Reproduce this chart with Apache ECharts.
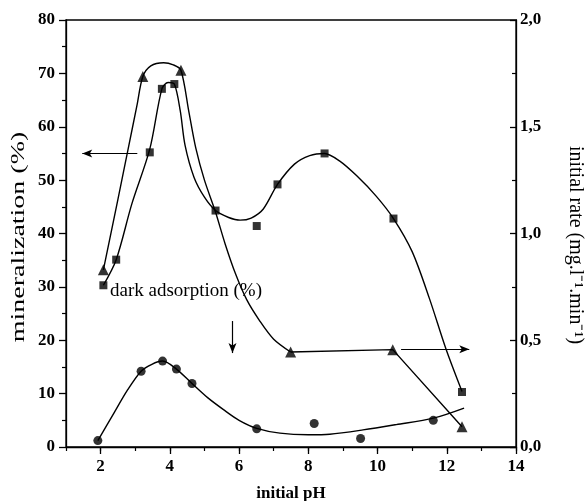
<!DOCTYPE html>
<html><head><meta charset="utf-8">
<script src="https://cdn.jsdelivr.net/npm/echarts@6/dist/echarts.min.js"></script>
<style>html,body{margin:0;padding:0;background:#fff}#c{width:588px;height:501px}</style>
</head><body><div id="c"></div>
<script>
// ---- data ----
const xTicks = [2, 4, 6, 8, 10, 12, 14];
const leftTicks = [0, 10, 20, 30, 40, 50, 60, 70, 80];
const rightTicks = ['0,0', '0,5', '1,0', '1,5', '2,0'];

// mineralization (%) - squares, left axis
const mineralPH  = [2.08, 2.45, 3.42, 3.77, 4.13, 5.32, 6.51, 7.11, 8.47, 10.46, 12.44];
const mineralVal = [30.3, 35.1, 55.2, 67.1, 68.0, 44.3, 41.4, 49.2, 55.0, 42.8, 10.3];
// fitted curve through mineralization
const mineralFitPH  = [2.08, 2.45, 2.9, 3.42, 3.77, 3.95, 4.13, 4.3, 4.44, 4.7, 5.0, 5.32, 5.7, 6.03, 6.35, 6.7, 7.11, 7.6, 8.04, 8.47, 8.9, 9.4, 9.96, 10.46, 11.0, 11.5, 11.98, 12.44];
const mineralFitVal = [30.3, 35.1, 45.5, 55.8, 67.1, 68.3, 68.0, 63.0, 56.5, 50.5, 46.8, 44.3, 43.0, 42.5, 42.9, 44.6, 49.2, 53.0, 54.6, 55.0, 53.6, 50.8, 47.0, 42.8, 36.6, 27.8, 18.3, 10.4];

// initial rate (mg/l/min) - triangles, right axis
const ratePH  = [2.08, 3.22, 4.32, 7.49, 10.44, 12.44];
const rateVal = [0.83, 1.735, 1.765, 0.445, 0.456, 0.095];
// fitted curve through initial rate (smooth part, then straight segments)
const rateFitPH  = [2.08, 2.5, 2.8, 3.05, 3.22, 3.45, 3.82, 4.1, 4.32, 4.55, 4.75, 5.0, 5.31, 5.6, 5.9, 6.22, 6.6, 7.0, 7.49];
const rateFitVal = [0.83, 1.16, 1.40, 1.60, 1.735, 1.785, 1.80, 1.79, 1.765, 1.57, 1.40, 1.25, 1.105, 0.95, 0.81, 0.69, 0.59, 0.505, 0.445];
const rateLinePH  = [7.49, 10.44, 12.44];
const rateLineVal = [0.445, 0.456, 0.095];

// dark adsorption (%) - circles, left axis
const adsPH  = [1.92, 3.17, 3.79, 4.19, 4.64, 6.51, 8.17, 9.51, 11.61];
const adsVal = [1.2, 14.2, 16.1, 14.6, 11.9, 3.4, 4.4, 1.6, 5.0];
const adsFitPH  = [1.92, 2.38, 2.77, 3.17, 3.48, 3.79, 4.19, 4.64, 5.1, 5.55, 6.0, 6.51, 7.18, 8.0, 8.62, 9.58, 10.54, 11.61, 12.5];
const adsFitVal = [1.2, 6.3, 10.6, 14.2, 15.5, 16.1, 14.6, 11.9, 9.2, 7.0, 5.0, 3.5, 2.6, 2.3, 2.4, 3.2, 4.2, 5.4, 7.3];

// annotation arrows (data coordinates, left axis)
const arrowLeft  = [[3.06, 55.0], [1.47, 55.0]];
const arrowRight = [[10.68, 18.3], [12.65, 18.3]];
const arrowDown  = [[5.81, 23.6], [5.81, 17.6]];

// ---- chart ----
const zip = (a, b) => a.map((v, i) => [v, b[i]]);
const FONT = "'Liberation Serif','Times New Roman',serif";
const BLK = '#000';
const chart = echarts.init(document.getElementById('c'), null, {renderer: 'canvas'});

const curve = (x, y, yi, smooth) => ({
  type: 'line', data: zip(x, y), yAxisIndex: yi, xAxisIndex: 0,
  symbol: 'none', smooth: smooth, lineStyle: {color: BLK, width: 1.4}, silent: true, z: 3
});
const pts = (x, y, yi, sym, size) => ({
  type: 'scatter', data: zip(x, y), yAxisIndex: yi, xAxisIndex: 0,
  symbol: sym, symbolSize: size, itemStyle: {color: BLK}, silent: true, z: 5
});
const arrow = (a) => [{coord: a[0]}, {coord: a[1]}];

chart.setOption({
  animation: false,
  backgroundColor: '#fff',
  grid: {left: 66, right: 72, top: 20, bottom: 54, outerBoundsMode: 'none', containLabel: false,
    show: true, borderColor: BLK, borderWidth: 1.3, backgroundColor: 'transparent'},
  xAxis: [{
    type: 'value', min: 1, max: 14,
    axisLine: {show: true, onZero: false, lineStyle: {color: BLK, width: 1.3}},
    axisTick: {show: true, customValues: xTicks, length: 7, lineStyle: {color: BLK, width: 1.3}},
    axisLabel: {customValues: xTicks, color: BLK, fontFamily: FONT, fontWeight: 'bold', fontSize: 17, margin: 11},
    splitLine: {show: false},
    name: 'initial pH', nameLocation: 'middle', nameGap: 38,
    nameTextStyle: {color: BLK, fontFamily: FONT, fontSize: 17, fontWeight: 'bold'}
  }, {
    type: 'value', min: 1, max: 14, interval: 1, position: 'bottom',
    axisLine: {show: false}, axisLabel: {show: false}, splitLine: {show: false},
    axisTick: {show: true, length: 4, lineStyle: {color: BLK, width: 1.2}}
  }],
  yAxis: [{
    type: 'value', min: 0, max: 80, interval: 10, position: 'left',
    axisLine: {show: true, lineStyle: {color: BLK, width: 1.3}},
    axisTick: {show: true, length: 7, lineStyle: {color: BLK, width: 1.3}},
    minorTick: {show: true, splitNumber: 2, length: 4, lineStyle: {color: BLK, width: 1.2}},
    axisLabel: {color: BLK, fontFamily: FONT, fontWeight: 'bold', fontSize: 17, margin: 11,
      formatter: (v) => leftTicks.indexOf(v) >= 0 ? String(v) : ''},
    splitLine: {show: false}
  }, {
    type: 'value', min: 0, max: 2, interval: 0.5, position: 'right',
    axisLine: {show: true, lineStyle: {color: BLK, width: 1.3}},
    axisTick: {show: true, inside: true, length: 6, lineStyle: {color: BLK, width: 1.3}},
    minorTick: {show: true, splitNumber: 2, length: 4, lineStyle: {color: BLK, width: 1.2}},
    axisLabel: {color: BLK, fontFamily: FONT, fontWeight: 'bold', fontSize: 17, margin: 4,
      formatter: (v) => rightTicks[Math.round(v * 2)]},
    splitLine: {show: false}
  }],
  graphic: [{
    type: 'text', left: 110, top: 282, silent: true,
    style: {text: 'dark adsorption (%)', font: '19px ' + FONT, fill: BLK}
  }, {
    type: 'text', silent: true, x: 19, y: 237, rotation: Math.PI / 2, scaleX: 1.4, scaleY: 0.92,
    style: {text: 'mineralization (%)', font: '20px ' + FONT, fill: BLK, align: 'center', verticalAlign: 'middle'}
  }, {
    type: 'text', silent: true, x: 575, y: 245, rotation: -Math.PI / 2,
    style: {text: 'initial rate (mg.l\u207B\u00B9.min\u207B\u00B9)', font: '20px ' + FONT, fill: BLK, align: 'center', verticalAlign: 'middle'}
  }],
  series: [
    curve(mineralFitPH, mineralFitVal, 0, 0.3),
    pts(mineralPH, mineralVal, 0, 'rect', 8),
    curve(rateFitPH, rateFitVal, 1, 0.3),
    curve(rateLinePH, rateLineVal, 1, false),
    pts(ratePH, rateVal, 1, 'triangle', 11),
    curve(adsFitPH, adsFitVal, 0, 0.3),
    Object.assign(pts(adsPH, adsVal, 0, 'circle', 9), {
      markLine: {
        silent: true, symbol: ['none', 'arrow'], symbolSize: [6, 10], animation: false,
        label: {show: false}, lineStyle: {color: BLK, width: 1.2, type: 'solid'},
        data: [arrow(arrowLeft), arrow(arrowRight), arrow(arrowDown)]
      }
    })
  ]
});
</script></body></html>
